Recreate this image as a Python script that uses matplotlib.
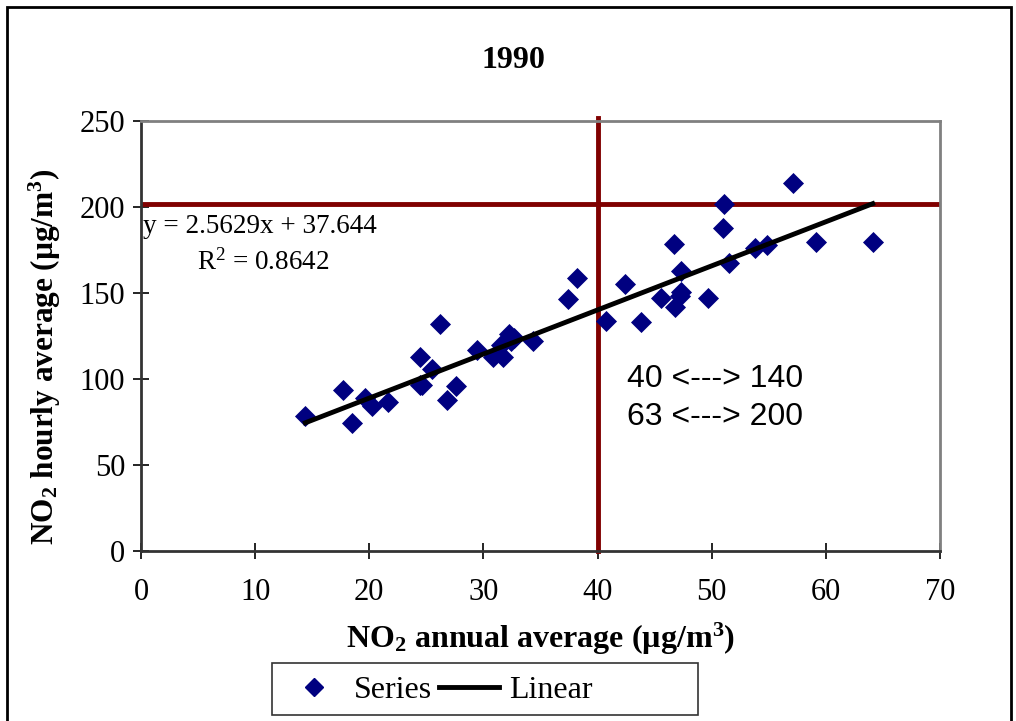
import numpy as np
import matplotlib.pyplot as plt
from matplotlib.patches import Rectangle
from matplotlib.lines import Line2D

# NO2 annual vs hourly averages, 1990
annual = [14.4, 17.7, 18.5, 19.6, 20.2, 21.6, 24.4, 24.4, 24.6, 25.5,
          26.2, 26.8, 27.6, 29.4, 30.8, 31.5, 31.7, 32.2, 32.7, 32.4,
          34.3, 37.4, 38.2, 40.7, 42.4, 43.8, 45.6, 46.8, 46.7, 47.3,
          47.3, 47.2, 49.7, 51.0, 51.1, 51.5, 53.8, 54.8, 57.1, 59.1, 64.1]
hourly = [78.5, 93.6, 74.4, 89.0, 84.3, 86.6, 113.0, 96.5, 96.5, 105.8,
          132.0, 87.8, 96.0, 117.0, 112.8, 120.0, 112.8, 126.0, 124.0, 122.0,
          122.0, 146.5, 159.0, 134.0, 155.0, 133.0, 147.0, 142.0, 178.5, 163.0,
          150.6, 148.0, 147.0, 188.0, 201.7, 167.4, 176.0, 178.0, 214.0, 179.6, 179.6]

slope = 2.5629
intercept = 37.644
r2 = 0.8642
limit_annual = 40
limit_hourly = 202

plt.rcParams['font.family'] = 'Liberation Serif'
plt.rcParams['mathtext.default'] = 'regular'

fig = plt.figure(figsize=(10.16, 7.21), dpi=100)
ax = fig.add_axes([141/1016, 1-551/721, 799/1016, 430/721])

navy = '#000080'
dark_red = '#800000'

ax.scatter(annual, hourly, marker='D', s=115, color=navy, zorder=3, linewidths=0)

xs = np.array([min(annual), max(annual)])
ax.plot(xs, slope*xs + intercept, color='black', lw=3.5, zorder=4)

ax.axhline(limit_hourly, color=dark_red, lw=3.5, zorder=2)
ax.axvline(limit_annual, ymin=0, ymax=1.008, color=dark_red, lw=3.5, zorder=2, clip_on=False)

ax.set_xlim(0, 70)
ax.set_ylim(0, 250)
ax.set_xticks(range(0, 71, 10))
ax.set_yticks(range(0, 251, 50))
ax.tick_params(direction='inout', length=11, width=1.2, labelsize=22, pad=6)
ax.tick_params(axis='x', pad=14)

for side in ['top', 'right']:
    ax.spines[side].set_color('#808080')
    ax.spines[side].set_linewidth(2)
for side in ['left', 'bottom']:
    ax.spines[side].set_color('#333333')
    ax.spines[side].set_linewidth(2)

ax.set_xlabel('NO$_2$ annual average (µg/m$^3$)', fontsize=23, fontweight='bold', labelpad=10)
ax.set_ylabel('NO$_2$ hourly average (µg/m$^3$)', fontsize=22.5, fontweight='bold')
ax.yaxis.set_label_coords(-0.098, 0.451)
fig.text(513/1016, 1-60/721, '1990', ha='center', va='center', fontsize=23, fontweight='bold')

ax.text(0.003, 0.755, 'y = %.4fx + %.3f' % (slope, intercept), transform=ax.transAxes,
        fontsize=19.5, va='center', ha='left')
ax.text(0.07, 0.672, 'R$^2$ = %.4f' % r2, transform=ax.transAxes,
        fontsize=19.5, va='center', ha='left')

ax.text(42.6, 100, '40 <---> 140', family='Liberation Sans', fontsize=23, va='center')
ax.text(42.6, 78, '63 <---> 200', family='Liberation Sans', fontsize=23, va='center')

handles = [Line2D([], [], marker='D', color=navy, ls='none', markersize=9),
           Line2D([], [], color='black', lw=3.5)]
leg = fig.legend(handles, ['Series', 'Linear'], loc='center', bbox_to_anchor=(438/1016, 1-690/721),
                 ncol=2, fontsize=23, frameon=False, borderpad=0.15,
                 handlelength=1.9, columnspacing=0.2, handletextpad=0.3, borderaxespad=0)

# legend box in the original is wider than its entries
fig.patches.append(Rectangle((272/1016, 1-715/721), 426/1016, 52/721, transform=fig.transFigure,
                             fill=False, edgecolor='#333333', lw=1.2))

fig.patches.append(Rectangle((7/1016, -0.01), 1004/1016, 1-7/721+0.01, transform=fig.transFigure,
                             fill=False, edgecolor='black', lw=2))

fig.savefig('out.png', dpi=100)
